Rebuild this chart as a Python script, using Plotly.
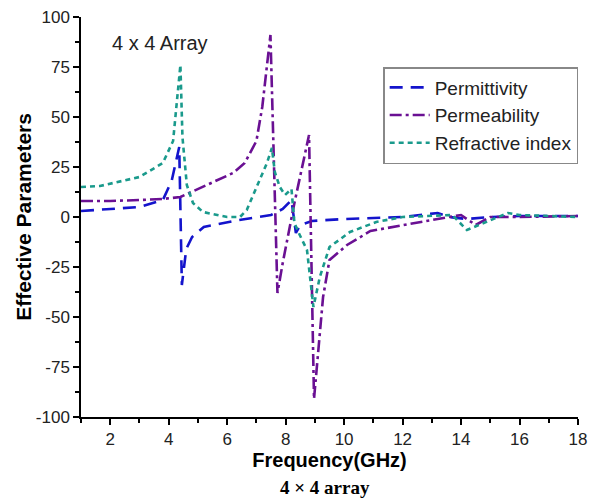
import plotly.graph_objects as go

# =====================
# data
# =====================
eps_freq = [1, 2, 3, 3.8, 4.1, 4.36, 4.45, 4.6, 4.8, 5.2, 6.4, 7.5, 7.9, 8.2, 8.35,
            8.5, 8.9, 10, 12, 13.2, 13.6, 14.2, 15, 16, 18]
eps_val = [3, 4, 5, 8.5, 18, 35, -34, -16, -10, -5, -1.5, 1, 4, 8.5, -8,
           -4, -2, -1, 0, 2, 0, -1, 0, 0.5, 0.5]

mu_freq = [1, 2, 3, 3.8, 4.4, 5.3, 6.2, 6.6, 7.0, 7.2, 7.48, 7.72, 7.9, 8.3, 8.6,
           8.8, 8.97, 9.28, 9.5, 10.1, 10.9, 12, 13, 14.0, 14.5, 15, 16, 18]
mu_val = [8, 8, 8.5, 9, 10, 16, 22, 27, 38, 55, 91, -38, -23, 7, 28,
          41, -91, -40, -21.5, -14, -7, -4, -1.5, 1, -4, 0, 0, 0.5]

n_freq = [1, 1.65, 3.0, 3.8, 4.15, 4.4, 4.47, 4.62, 4.83, 5.17, 6.0, 6.44, 6.67, 7.0,
          7.36, 7.53, 7.63, 7.8, 7.98, 8.2, 8.3, 8.45, 8.73, 8.95, 9.17, 9.5, 10.2,
          11.1, 12, 13.7, 14.2, 15.6, 16, 18]
n_val = [15, 15.5, 20, 27, 38, 76, 40, 16, 7, 2.5, 0, 0, 3.5, 15,
         27, 34.5, 22.5, 15, 11, 14, -3, -8, -16.5, -45, -30, -15, -7.5,
         -2.5, 0, 1, -6.5, 2, 1, 0]

x_ticks = [2, 4, 6, 8, 10, 12, 14, 16, 18]
y_ticks = [-100, -75, -50, -25, 0, 25, 50, 75, 100]

fig = go.Figure()

fig.add_scatter(
    x=eps_freq, y=eps_val, mode="lines", name="Permittivity",
    line=dict(color="#1414CC", width=2.6, dash="13px,8px")
)
fig.add_scatter(
    x=mu_freq, y=mu_val, mode="lines", name="Permeability",
    line=dict(color="#6A1093", width=2.6, dash="12px,4px,3px,4px")
)
fig.add_scatter(
    x=n_freq, y=n_val, mode="lines", name="Refractive index",
    line=dict(color="#1A9A8C", width=2.6, dash="5px,4px")
)

axis_style = dict(
    showline=True, linecolor="black", linewidth=1.5,
    ticks="outside", ticklen=6, tickwidth=1.5, tickcolor="black",
    showgrid=False, zeroline=False, mirror=False, automargin=False,
    ticklabeloverflow="allow",
    tickfont=dict(family="Arial, Liberation Sans", size=17, color="#222"),
)

fig.update_xaxes(
    range=[1, 18], tickvals=x_ticks,
    minor=dict(dtick=1, tick0=1, ticks="outside", ticklen=4, tickcolor="black", tickwidth=1.5),
    title=dict(text="<b>Frequency(GHz)</b>", standoff=0,
               font=dict(family="Arial, Liberation Sans", size=20, color="black")),
    **axis_style
)
fig.update_yaxes(
    range=[-100, 100], tickvals=y_ticks, ticktext=[str(v) for v in y_ticks],
    minor=dict(dtick=12.5, tick0=0, ticks="outside", ticklen=4, tickcolor="black", tickwidth=1.5),
    **axis_style
)

# y title as an annotation so it can sit closer to the tick labels
fig.add_annotation(
    x=-0.117, y=0.5, xref="paper", yref="paper", xanchor="center", yanchor="middle",
    text="<b>Effective Parameters</b>", textangle=-90, showarrow=False,
    font=dict(family="Arial, Liberation Sans", size=21, color="black")
)
fig.add_annotation(
    x=3.7, y=87, text="4 x 4 Array", showarrow=False,
    font=dict(family="Arial, Liberation Sans", size=20, color="#222")
)
fig.add_annotation(
    x=0.49, y=-0.175, xref="paper", yref="paper", xanchor="center", yanchor="middle",
    text="<b>4 × 4 array</b>", showarrow=False,
    font=dict(family="Liberation Serif, Times New Roman", size=19, color="black")
)

fig.update_layout(
    width=589, height=501,
    margin=dict(l=81, r=11, t=17, b=84),
    plot_bgcolor="white", paper_bgcolor="white",
    legend=dict(
        x=0.608, y=0.875, xanchor="left", yanchor="top",
        bordercolor="#888", borderwidth=1.5, bgcolor="white",
        font=dict(family="Arial, Liberation Sans", size=19, color="#222"),
        tracegroupgap=0, itemwidth=40
    ),
)

# drop the default 8px body margin so the figure fills the window exactly
fig.write_html(
    "out.html",
    config={"displayModeBar": False},
    post_script="document.body.style.margin = '0';",
)
